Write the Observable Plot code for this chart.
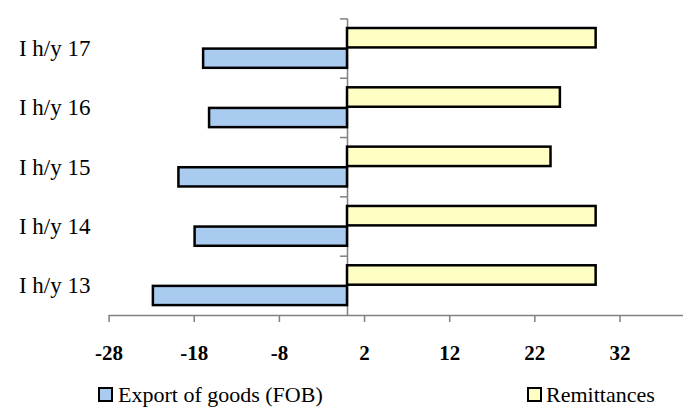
<!DOCTYPE html>
<html>
<head>
<meta charset="utf-8">
<script src="https://cdn.jsdelivr.net/npm/d3@7"></script>
<script src="https://cdn.jsdelivr.net/npm/@observablehq/plot@0.6"></script>
<style>
  html, body { margin: 0; padding: 0; background: white; }
  #wrap { width: 683px; }
  .lgd { position: relative; width: 683px; height: 38px; font-family: "Liberation Serif", "Times New Roman", serif; font-size: 22px; color: black; overflow: hidden; }
  .lgd .sw { position: absolute; top: 17px; width: 11px; height: 11px; border: 2.5px solid black; }
  .lgd .lb { position: absolute; top: 14.6px; line-height: 20px; white-space: nowrap; }
</style>
</head>
<body>
<div id="wrap"></div>
<script>
const categories = ["I h/y 17", "I h/y 16", "I h/y 15", "I h/y 14", "I h/y 13"];
const exportGoods = [-16.9, -16.2, -19.8, -17.9, -22.8];
const remittances = [29.2, 25.0, 23.9, 29.2, 29.2];
const xTicks = [-28, -18, -8, 2, 12, 22, 32];
const seriesNames = ["Export of goods (FOB)", "Remittances"];
const seriesColors = ["#a9cbef", "#ffffc4"];

const rows = categories.map((c, i) => ({category: c, exportGoods: exportGoods[i], remittances: remittances[i]}));

const W = 683, H = 370, mTop = 18.4, mBottom = 55, mLeft = 108.6;
const step = (H - mTop - mBottom) / categories.length;
const xMin = -28, xMax = 39.46;
const tickLen = 0.82;
const axisGray = "#808080";

const chart = Plot.plot({
  width: W,
  height: H,
  marginLeft: mLeft,
  marginRight: 0,
  marginTop: mTop,
  marginBottom: mBottom,
  style: {fontFamily: "Liberation Serif", background: "white", color: "black", overflow: "visible"},
  x: {domain: [xMin, xMax]},
  y: {domain: categories, padding: 0, round: false},
  marks: [
    Plot.ruleX([0], {stroke: axisGray, strokeWidth: 1.5}),
    Plot.ruleY(rows, {y: "category", dy: -step / 2, x1: -tickLen, x2: 0, stroke: axisGray, strokeWidth: 1.5}),
    Plot.ruleY([rows[rows.length - 1]], {y: "category", dy: step / 2, x1: xMin, x2: xMax, stroke: axisGray, strokeWidth: 1.5}),
    Plot.barX(rows, {y: "category", x: "exportGoods", fill: seriesColors[0], stroke: "black", strokeWidth: 2.5, insetTop: 30.2, insetBottom: 9.9}),
    Plot.barX(rows, {y: "category", x: "remittances", fill: seriesColors[1], stroke: "black", strokeWidth: 2.5, insetTop: 9.6, insetBottom: 30.3}),
    Plot.axisX({ticks: xTicks, tickSize: 7, tickPadding: 23, stroke: axisGray, strokeWidth: 1.5, fill: "black", fontSize: 21, fontWeight: "bold", tickFormat: d => String(d), label: null}),
    Plot.axisY({tickSize: 0, tickPadding: 18.6, fontSize: 23, fill: "black", label: null})
  ]
});

const wrap = document.getElementById("wrap");
wrap.appendChild(chart);

const legend = document.createElement("div");
legend.className = "lgd";
const legendPos = [{sw: 98, lb: 118}, {sw: 527, lb: 546}];
seriesNames.forEach((name, i) => {
  const sw = document.createElement("div");
  sw.className = "sw";
  sw.style.left = legendPos[i].sw + "px";
  sw.style.background = seriesColors[i];
  const lb = document.createElement("div");
  lb.className = "lb";
  lb.style.left = legendPos[i].lb + "px";
  lb.textContent = name;
  legend.appendChild(sw);
  legend.appendChild(lb);
});
wrap.appendChild(legend);
</script>
</body>
</html>
